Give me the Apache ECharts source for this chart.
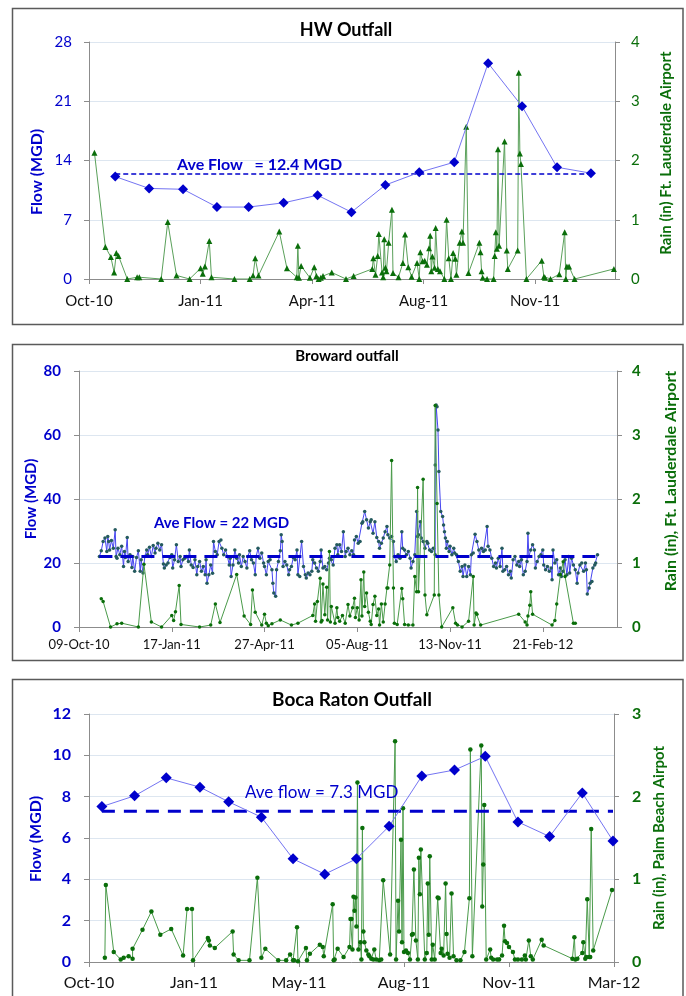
<!DOCTYPE html>
<html><head><meta charset="utf-8">
<script src="https://cdn.jsdelivr.net/npm/echarts@6/dist/echarts.min.js"></script>
<style>html,body{margin:0;padding:0;background:#fff}#c{width:686px;height:996px}</style>
</head><body><div id="c"></div>
<script>
// ---------- DATA (x = days since axis start date) ----------
// Panel 1: HW Outfall, x days since 2010-10-01
const hwTickLabels = ['Oct-10','Jan-11','Apr-11','Aug-11','Nov-11'];
const hwTickStep = 102, hwMaxDay = 481;
const hwFlow = [[24,12.1],[55,10.7],[86,10.6],[117,8.5],[146,8.5],[178,9.0],[209,9.9],[240,7.9],[271,11.1],[302,12.6],[334,13.8],[365,25.5],[396,20.4],[428,13.2],[459,12.5]];
const hwAve = 12.4;
const hwRain = [[5,2.13],[15,0.54],[20,0.37],[23,0.11],[25,0.44],[27,0.39],[35,0],[44,0.03],[46,0.03],[66,0],
[72,0.96],[80,0.06],[92,0],[102,0.18],[104,0.09],[106,0.21],[110,0.64],[112,0.03],[133,0],[147,0],
[150,0.06],[152,0.35],[155,0.06],[174,0.80],[181,0.18],[190,0.03],[191,0.56],[192,0.02],[194,0.22],[202,0.02],
[206,0.2],[208,0.05],[210,0],[212,0.02],[214,0.05],[222,0.11],[235,0],[242,0.05],[259,0.17],[260,0.35],
[262,0.07],[264,0.39],[265,0.76],[268,0.11],[269,0.03],[270,0.67],[271,0.19],[272,0.13],[274,0.61],[277,1.17],
[278,0.1],[283,0.03],[287,0.27],[289,0.75],[292,0.2],[295,0.04],[300,0.27],[302,0],[303,0.45],[305,0.3],
[307,0.31],[309,0.24],[311,0.52],[312,0.73],[313,0.13],[314,0.38],[316,0.19],[317,0.86],[319,0.17],[321,0.13],
[325,0],[327,1.0],[329,0.35],[331,0],[333,0.44],[335,0.34],[336,0.07],[339,0.61],[341,0.8],[342,0.61],
[345,2.57],[347,0.1],[357,0.61],[358,0.45],[359,0.13],[360,0.02],[364,0],[370,0],[371,0.39],[372,0.79],
[373,0.51],[374,2.19],[375,0.56],[380,2.32],[382,0.48],[383,0.17],[392,0.48],[393,3.48],[394,2.12],[395,1.94],
[400,0],[414,0.31],[416,0.04],[417,0.02],[422,0],[430,0.08],[435,0.79],[436,0],[437,0.21],[439,0.21],
[444,0],[480,0.17]];

// Panel 2: Broward outfall, x days since 2010-10-09
const bwTickLabels = ['09-Oct-10','17-Jan-11','27-Apr-11','05-Aug-11','13-Nov-11','21-Feb-12'];
const bwTickStep = 100, bwMaxDay = 580;
const bwFlow = [[22,22.0],[24,23.8],[26,26.7],[28,27.8],[30,23.6],[31,28.3],[32,26.7],[33,24.1],[35,27],[37,24.6],
[39,30.4],[40,22],[41,21.5],[42,24.6],[44,22.6],[46,25.2],[48,18.9],[49,23.6],[50,21.7],[52,28],
[53,20.5],[55,22.6],[57,18.6],[58,22],[60,17.4],[62,21.7],[64,23.8],[66,17.4],[67,21],[69,16.9],
[71,22],[73,24.1],[74,22.6],[76,24.9],[78,22],[80,25.5],[82,23.1],[83,24.6],[85,26.2],[87,24.1],
[89,25.7],[91,19.7],[92,18.4],[94,19.4],[96,20],[98,21.7],[100,22.6],[101,18.4],[103,21],[105,25.7],
[107,20.5],[109,22],[110,18.9],[112,21],[114,21.5],[116,22],[118,20.5],[119,24.1],[121,19.4],[123,18.6],
[125,21],[127,16.3],[128,18.9],[130,20.5],[132,17.4],[134,18.9],[136,16.3],[137,21],[138,13.7],[140,16.3],
[142,19.4],[144,16.8],[145,26.7],[147,23.6],[149,22.6],[151,26.7],[153,27.2],[154,24.6],[156,22.6],[158,24.1],
[160,22],[162,19.4],[163,21.5],[164,15.8],[166,19.4],[168,24.1],[170,21.5],[172,20],[173,22.6],[175,18.9],
[177,22],[179,20.5],[181,18.4],[182,22],[184,23.8],[186,21],[188,20],[190,16.3],[191,22],[193,24.6],
[195,21.5],[197,23.1],[199,20],[200,18.9],[202,16.3],[204,20.5],[206,21],[208,17.9],[209,13.7],[210,10.6],
[212,9.6],[213,17.9],[215,20.5],[217,23.8],[218,28.8],[219,26.7],[220,18.9],[222,20.5],[224,19.4],[226,16.3],
[227,17.9],[229,18.9],[231,21.7],[233,21],[235,24.1],[236,16.3],[238,15.8],[240,26.7],[242,18.9],[244,16.3],
[245,15.3],[247,16.9],[249,16.3],[251,17.4],[252,21],[254,20],[256,18.4],[258,17.4],[260,20.5],[261,24.1],
[263,18.4],[265,18.9],[267,17.9],[269,20],[270,21.5],[272,21],[274,19.4],[276,24.6],[278,25.7],[279,22.6],
[281,25.7],[283,23.6],[285,29.8],[287,22],[288,23.6],[290,24.6],[292,22.6],[294,23.8],[296,22.6],[297,27.2],
[299,28.3],[301,26.2],[303,26.7],[305,32.4],[306,32.9],[308,36.1],[310,33.5],[312,30.9],[314,32.9],[315,33.5],
[317,29.3],[319,32.9],[321,28],[323,26.7],[324,24.6],[326,26.2],[328,27.8],[330,29.8],[332,31.4],[333,28.8],
[335,27.8],[337,28.3],[339,26.7],[340,22],[342,20.5],[344,22.6],[346,21.5],[348,29.8],[349,24.6],[351,24.1],
[353,22.6],[355,23.6],[357,21.5],[358,18.4],[360,20.5],[362,22.6],[364,36.1],[365,28.3],[366,28.8],[368,32.9],
[369,27.8],[371,26.7],[373,24.6],[375,26.7],[376,26.2],[378,24.1],[380,23.6],[382,24.6],[384,22.6],[384,50.6],
[385,69.4],[386,68.8],[387,61.6],[388,48.6],[390,36.1],[392,34.5],[393,31.9],[394,29.8],[395,27.8],[396,24.6],
[397,26.7],[399,23.6],[400,25.2],[402,22.6],[404,24.6],[405,23.1],[407,22.6],[409,20.5],[411,17.4],[413,18.9],
[414,15.8],[416,19.4],[418,15.8],[420,18.9],[422,16.3],[423,22.6],[425,23.1],[427,29],[429,26.7],[431,24.1],
[432,22],[434,24.6],[436,23.6],[438,24.1],[440,31.4],[441,25.2],[443,24.1],[445,21.5],[447,18.9],[449,20],
[450,18.4],[452,21.5],[454,18.9],[456,24.6],[457,17.4],[459,17.9],[461,18.9],[463,16.3],[465,17.4],[466,15.3],
[468,21],[470,22],[472,19.4],[474,20.5],[475,18.9],[477,21],[479,16.3],[481,17.4],[483,20.5],[484,29.3],
[485,22],[487,24.1],[489,25.7],[491,24.1],[492,18.4],[494,20.5],[496,22],[498,22.6],[500,24.1],[501,19.4],
[503,17.9],[505,18.9],[507,17.4],[509,18.4],[510,14.8],[511,24.1],[513,20],[515,21],[517,16.3],[519,18.4],
[520,15.8],[522,17.4],[524,21],[526,16.3],[528,22],[529,16.9],[531,21.5],[533,19.4],[535,17.9],[537,13.7],
[538,16.9],[540,19.4],[542,20],[544,17.4],[546,20],[547,17.9],[548,10.3],[550,12.2],[551,13.7],[553,14.2],
[554,18.4],[556,19.4],[557,20],[559,22.6]];
const bwAve = 22;
const bwRain = [[24,0.44],[26,0.4],[34,0],[41,0.05],[46,0.06],[64,0],[70,0.98],[78,0.08],[89,0],[100,0.18],
[102,0.1],[104,0.24],[108,0.65],[110,0.04],[130,0],[142,0.03],[147,0.36],[152,0.07],[170,0.82],[178,0.17],
[185,0.04],[187,0.58],[190,0.23],[197,0.03],[200,0.2],[202,0.06],[204,0.02],[208,0.05],[217,0.11],[229,0.03],
[236,0.06],[252,0.18],[254,0.36],[255,0.09],[257,0.4],[260,0.76],[261,0.08],[262,0.1],[263,0.67],[265,0.19],
[267,0.62],[268,0.11],[270,1.18],[271,0.08],[272,0.32],[276,0.06],[278,0.3],[279,0.15],[281,0.09],[284,0.18],
[287,0.06],[290,0.35],[292,0.17],[295,0.3],[297,0.45],[298,0.15],[300,0.3],[302,0.11],[304,0.74],[305,0.17],
[307,0.86],[308,0.32],[310,0.53],[312,0.23],[314,0.09],[315,0.04],[317,0.35],[319,0.48],[321,0.18],[323,0.28],
[324,0.03],[326,0.36],[328,0.08],[330,0.36],[332,0.61],[333,0.61],[335,0.97],[337,2.6],[339,0.61],[340,0.06],
[343,0.04],[348,0.6],[349,0.44],[351,0.04],[355,0.03],[360,0.03],[362,0.79],[364,0.55],[365,2.18],[366,0.55],
[371,2.31],[373,0.5],[375,0.19],[383,0.5],[384,3.46],[386,1.93],[388,0.5],[391,0],[403,0.3],[406,0.06],
[408,0.03],[413,0],[420,0.09],[425,0.79],[426,0.03],[428,0.22],[429,0.2],[433,0.03],[474,0.2],[481,0.08],
[483,0.03],[484,0.17],[486,0.34],[487,0.55],[489,0.2],[510,0.03],[513,0.1],[515,0.36],[519,0.82],[522,1.02],
[524,0.79],[533,0.06],[535,0.06]];

// Panel 3: Boca Raton Outfall, x days since 2010-10-01
const bcTickLabels = ['Oct-10','Jan-11','May-11','Aug-11','Nov-11','Mar-12'];
const bcTickStep = 106, bcMaxDay = 530;
const bcFlow = [[13,7.52],[46,8.04],[78,8.91],[112,8.46],[141,7.75],[174,7.01],[206,4.99],[238,4.25],[270,4.99],[303,6.57],[336,9.0],[369,9.29],[400,9.95],[433,6.78],[465,6.07],[498,8.18],[529,5.86]];
const bcAve = 7.3;
const bcRain = [[16,0.05],[17,0.93],[25,0.12],[32,0.03],[35,0.05],[40,0.07],[44,0.04],[44,0.16],[54,0.39],[63,0.61],
[72,0.33],[83,0.4],[95,0.08],[99,0.64],[104,0.64],[105,0.02],[120,0.29],[121,0.26],[122,0.2],[127,0.17],
[145,0.37],[146,0.09],[151,0.02],[162,0.02],[170,1.02],[174,0.05],[178,0.16],[191,0.02],[199,0.02],[203,0.09],
[206,0.02],[207,0.02],[210,0.42],[211,0.01],[219,0.17],[220,0.02],[223,0.1],[233,0.21],[236,0.18],[237,0.07],
[246,0.7],[247,0.02],[248,0.03],[251,0.16],[257,0.06],[263,0.18],[264,0.52],[265,0.52],[266,0.15],[267,0.79],
[268,0.62],[269,0.78],[270,0.43],[271,2.17],[272,0.15],[274,0.24],[275,0.03],[276,1.62],[277,0.37],[278,0.24],
[280,0.14],[282,0.09],[283,0.07],[285,0.04],[287,0.03],[288,0.15],[290,0.03],[293,0.02],[295,0.03],[297,0.99],
[304,0.09],[309,2.67],[310,0.03],[312,0.74],[313,0.37],[315,1.48],[316,0.24],[317,1.86],[318,0.12],[320,0.14],
[322,0.11],[324,0.03],[326,0.33],[327,0.34],[328,1.12],[330,0.26],[332,0.03],[333,1.26],[334,0.82],[335,1.36],
[339,0.03],[341,0.11],[342,0.95],[343,0.33],[344,1.28],[346,0.03],[347,0.21],[349,0.03],[352,0.78],[353,0.77],
[355,0.11],[356,0.16],[358,0.08],[360,0.95],[361,0.34],[362,0.1],[364,0.05],[366,0.83],[368,0.07],[371,0.02],
[375,0.02],[379,0.12],[384,0.77],[385,2.57],[387,0.07],[396,2.62],[397,0.67],[398,1.18],[399,1.9],[401,0.03],
[405,0.15],[406,0.05],[408,0.03],[412,0.03],[414,0.03],[417,0.08],[419,0.44],[420,0.25],[422,0.23],[424,0.18],
[428,0.12],[430,0.03],[433,0.03],[437,0.03],[440,0.08],[441,0.03],[444,0.26],[446,0.07],[448,0.03],[457,0.27],
[459,0.2],[488,0.04],[490,0.3],[491,0.03],[493,0.04],[498,0.11],[499,0.24],[501,0.04],[502,0.06],[503,0.76],
[505,0.06],[506,0.06],[507,1.61],[509,0.14],[528,0.87]];

// ---------- CHART ----------
const FONT = 'Lato, "Open Sans", sans-serif';
const BLUE = '#0000cc', GREEN = '#0a6e0a', AXIS = '#8c8c8c', GRID = '#dde6f0';

function xAxisFor(gi, labels, step, max, size, margin) {
  const vals = labels.map((_, i) => i * step);
  return {
    type: 'value', gridIndex: gi, min: 0, max: max, interval: step,
    axisLine: { show: true, lineStyle: { color: AXIS, width: 1 } },
    axisTick: { show: true, length: 5, customValues: vals, lineStyle: { color: AXIS } },
    axisLabel: { customValues: vals, color: '#111', fontSize: size, fontFamily: FONT, margin: margin,
      formatter: v => { const i = Math.round(v / step); return Math.abs(v - i * step) < 0.01 && labels[i] ? labels[i] : ''; } },
    splitLine: { show: false }
  };
}
function yAxisFor(gi, pos, max, step, color, size, bold, margin, split) {
  return {
    type: 'value', gridIndex: gi, position: pos, min: 0, max: max, interval: step,
    axisLine: { show: true, lineStyle: { color: AXIS, width: 1 } },
    axisTick: { show: true, length: 5, lineStyle: { color: AXIS } },
    axisLabel: { color: color, fontSize: size, fontWeight: bold ? 'bold' : 'normal', fontFamily: FONT, margin: margin },
    splitLine: { show: split, lineStyle: { color: GRID, width: 1.2 } }
  };
}
function aveLine(xi, yi, flow, ave, w, dash, z) {
  return { type: 'line', xAxisIndex: xi, yAxisIndex: yi, data: [[flow[0][0], ave], [flow[flow.length - 1][0], ave]],
    symbol: 'none', lineStyle: { color: BLUE, width: w, type: dash }, z: z, silent: true };
}

const option = {
  animation: false,
  backgroundColor: '#fff',
  grid: [
    { left: 89, top: 42, width: 526, height: 237, outerBoundsMode: 'none', containLabel: false },
    { left: 79, top: 371, width: 538, height: 256, outerBoundsMode: 'none', containLabel: false },
    { left: 89, top: 714, width: 525, height: 248, outerBoundsMode: 'none', containLabel: false }
  ],
  xAxis: [
    xAxisFor(0, hwTickLabels, hwTickStep, hwMaxDay, 15, 15),
    xAxisFor(1, bwTickLabels, bwTickStep, bwMaxDay, 13, 11),
    xAxisFor(2, bcTickLabels, bcTickStep, bcMaxDay, 16, 13)
  ],
  yAxis: [
    yAxisFor(0, 'left', 28, 7, BLUE, 15, false, 17, true),
    yAxisFor(0, 'right', 4, 1, GREEN, 15, false, 16, false),
    yAxisFor(1, 'left', 80, 20, BLUE, 15, true, 18, true),
    yAxisFor(1, 'right', 4, 1, GREEN, 15, true, 15, false),
    yAxisFor(2, 'left', 12, 2, BLUE, 16, true, 18, true),
    yAxisFor(2, 'right', 3, 1, GREEN, 16, true, 18, false)
  ],
  series: [
    // Panel 1
    { type: 'line', xAxisIndex: 0, yAxisIndex: 1, data: hwRain, symbol: 'triangle', symbolSize: 6,
      lineStyle: { color: '#5aa05a', width: 1 }, itemStyle: { color: GREEN }, z: 2 },
    aveLine(0, 0, hwFlow, hwAve, 1.5, [5, 3], 3),
    { type: 'line', xAxisIndex: 0, yAxisIndex: 0, data: hwFlow, symbol: 'diamond', symbolSize: 10,
      lineStyle: { color: '#7474f2', width: 1 }, itemStyle: { color: BLUE }, z: 4 },
    // Panel 2
    { type: 'line', xAxisIndex: 1, yAxisIndex: 2, data: bwFlow, symbol: 'circle', symbolSize: 3.5,
      lineStyle: { color: '#4646f0', width: 1 }, itemStyle: { color: '#245a5e' }, z: 2 },
    { type: 'line', xAxisIndex: 1, yAxisIndex: 3, data: bwRain, symbol: 'circle', symbolSize: 3.5,
      lineStyle: { color: '#4a9a4a', width: 1 }, itemStyle: { color: GREEN }, z: 3 },
    aveLine(1, 2, bwFlow, bwAve, 3, [13, 8], 4),
    // Panel 3
    { type: 'line', xAxisIndex: 2, yAxisIndex: 5, data: bcRain, symbol: 'circle', symbolSize: 4.5,
      lineStyle: { color: '#4a9a4a', width: 1 }, itemStyle: { color: GREEN }, z: 2 },
    aveLine(2, 4, bcFlow, bcAve, 3, [13, 9], 3),
    { type: 'line', xAxisIndex: 2, yAxisIndex: 4, data: bcFlow, symbol: 'diamond', symbolSize: 11,
      lineStyle: { color: '#7474f2', width: 1 }, itemStyle: { color: BLUE }, z: 4 }
  ],
  graphic: [
    { type: 'rect', shape: { x: 12.5, y: 8.5, width: 670.5, height: 316 }, style: { fill: null, stroke: '#5a5a5a', lineWidth: 1.5 }, silent: true },
    { type: 'rect', shape: { x: 12.5, y: 344.5, width: 670.5, height: 316 }, style: { fill: null, stroke: '#5a5a5a', lineWidth: 1.5 }, silent: true },
    { type: 'rect', shape: { x: 12.5, y: 679.5, width: 670.5, height: 330 }, style: { fill: null, stroke: '#5a5a5a', lineWidth: 1.5 }, silent: true },
    // titles
    { type: 'text', x: 346, y: 30, style: { text: 'HW Outfall', align: 'center', verticalAlign: 'middle', font: 'bold 18px ' + FONT, fill: '#000' } },
    { type: 'text', x: 347, y: 356, style: { text: 'Broward outfall', align: 'center', verticalAlign: 'middle', font: 'bold 15px ' + FONT, fill: '#000' } },
    { type: 'text', x: 352, y: 700, style: { text: 'Boca Raton Outfall', align: 'center', verticalAlign: 'middle', font: 'bold 19px ' + FONT, fill: '#000' } },
    // axis names
    { type: 'text', x: 37, y: 172, rotation: Math.PI / 2, style: { text: 'Flow (MGD)', align: 'center', verticalAlign: 'middle', font: 'bold 16px ' + FONT, fill: BLUE } },
    { type: 'text', x: 666, y: 153, rotation: Math.PI / 2, style: { text: 'Rain (in) Ft. Lauderdale Airport', align: 'center', verticalAlign: 'middle', font: 'bold 15px ' + FONT, fill: GREEN } },
    { type: 'text', x: 31, y: 499, rotation: Math.PI / 2, style: { text: 'Flow (MGD)', align: 'center', verticalAlign: 'middle', font: 'bold 15px ' + FONT, fill: BLUE } },
    { type: 'text', x: 671, y: 481, rotation: Math.PI / 2, style: { text: 'Rain (in), Ft. Lauderdale Airport', align: 'center', verticalAlign: 'middle', font: 'bold 16px ' + FONT, fill: GREEN } },
    { type: 'text', x: 36, y: 839, rotation: Math.PI / 2, style: { text: 'Flow (MGD)', align: 'center', verticalAlign: 'middle', font: 'bold 16px ' + FONT, fill: BLUE } },
    { type: 'text', x: 659, y: 838, rotation: Math.PI / 2, style: { text: 'Rain (in), Palm Beach Airpot', align: 'center', verticalAlign: 'middle', font: 'bold 15px ' + FONT, fill: GREEN } },
    // average annotations
    { type: 'text', x: 177, y: 165, z: 10, style: { text: 'Ave Flow   = 12.4 MGD', align: 'left', verticalAlign: 'middle', font: 'bold 16px ' + FONT, fill: BLUE } },
    { type: 'text', x: 154, y: 523, z: 10, style: { text: 'Ave Flow = 22 MGD', align: 'left', verticalAlign: 'middle', font: 'bold 15px ' + FONT, fill: BLUE } },
    { type: 'text', x: 245, y: 793, z: 10, style: { text: 'Ave flow = 7.3 MGD', align: 'left', verticalAlign: 'middle', font: '17px ' + FONT, fill: BLUE } }
  ]
};
const chart = echarts.init(document.getElementById('c'), null, { renderer: 'canvas' });
chart.setOption(option);
</script></body></html>
